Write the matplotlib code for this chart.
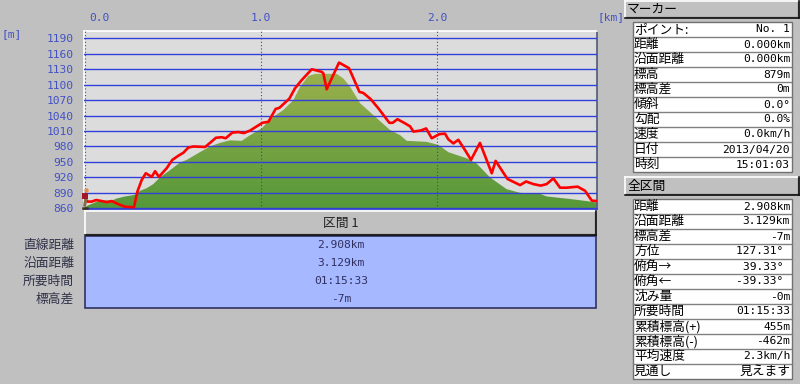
import numpy as np
import matplotlib
matplotlib.use("Agg")
import matplotlib.pyplot as plt
from matplotlib.patches import Rectangle
from matplotlib.transforms import ScaledTranslation

CJK = ['Noto Sans CJK JP', 'DejaVu Sans']
MONO = ['DejaVu Sans Mono', 'Noto Sans CJK JP']
plt.rcParams['font.family'] = CJK

# track (red line)
track_km = [0.0, 0.013, 0.038, 0.063, 0.095, 0.123, 0.152, 0.189, 0.227, 0.278, 0.297, 0.322, 0.345, 0.379, 0.398,
            0.420, 0.464, 0.496, 0.530, 0.559, 0.587, 0.616, 0.682, 0.710, 0.744, 0.777, 0.799, 0.837, 0.871, 0.903,
            0.938, 0.975, 1.008, 1.042, 1.083, 1.104, 1.161, 1.193, 1.231, 1.288, 1.345, 1.354, 1.373, 1.443, 1.500,
            1.559, 1.581, 1.623, 1.667, 1.729, 1.748, 1.775, 1.818, 1.847, 1.866, 1.907, 1.938, 1.970, 2.013, 2.045,
            2.064, 2.093, 2.121, 2.159, 2.193, 2.244, 2.311, 2.333, 2.400, 2.472, 2.506, 2.547, 2.589, 2.623, 2.661,
            2.699, 2.737, 2.799, 2.841, 2.879, 2.907]
track_m = [879, 873, 873, 876, 874, 872, 874, 868, 863, 862, 892, 915, 928, 921, 932,
           921, 938, 954, 962, 968, 978, 980, 979, 987, 997, 998, 996, 1007, 1008, 1006,
           1011, 1019, 1026, 1028, 1053, 1055, 1073, 1093, 1109, 1130, 1125, 1122, 1091, 1143, 1132,
           1086, 1084, 1072, 1054, 1026, 1026, 1033, 1025, 1019, 1009, 1011, 1015, 996, 1004, 1005,
           994, 986, 993, 973, 954, 987, 928, 952, 917, 905, 912, 907, 904, 907, 918,
           900, 900, 902, 894, 875, 874]

# terrain (green area)
ground_km = [0.0, 0.019, 0.085, 0.152, 0.180, 0.227, 0.284, 0.313, 0.350, 0.388, 0.426, 0.483, 0.540, 0.578, 0.653,
             0.710, 0.767, 0.824, 0.890, 0.938, 1.004, 1.051, 1.127, 1.184, 1.222, 1.269, 1.307, 1.430, 1.468, 1.506,
             1.563, 1.638, 1.733, 1.790, 1.828, 1.941, 2.008, 2.064, 2.169, 2.225, 2.301, 2.396, 2.472, 2.585, 2.623,
             2.756, 2.850, 2.907]
ground_m = [862, 866, 875, 875, 879, 883, 886, 894, 899, 907, 920, 934, 949, 954, 969,
            980, 987, 992, 991, 1002, 1015, 1033, 1051, 1070, 1096, 1117, 1121, 1121, 1112, 1096,
            1064, 1041, 1012, 1002, 991, 989, 983, 969, 957, 947, 920, 897, 890, 888, 883,
            878, 874, 871]

y_ticks = [860, 890, 920, 950, 980, 1010, 1040, 1070, 1100, 1130, 1160, 1190]
x_ticks = [0.0, 1.0, 2.0]
x_labels = ['0.0', '1.0', '2.0']

section_title = '区間 1'
section_names = ['直線距離', '沿面距離', '所要時間', '標高差']
section_values = ['2.908km', '3.129km', '01:15:33', '-7m']

marker_names = ['ポイント:', '距離', '沿面距離', '標高', '標高差', '傾斜', '勾配', '速度', '日付', '時刻']
marker_values = ['No. 1', '0.000km', '0.000km', '879m', '0m', '0.0°', '0.0%', '0.0km/h', '2013/04/20', '15:01:03']

total_names = ['距離', '沿面距離', '標高差', '方位', '俯角→', '俯角←', '沈み量', '所要時間',
               '累積標高(+)', '累積標高(-)', '平均速度', '見通し']
total_values = ['2.908km', '3.129km', '-7m', '127.31° ', '39.33° ', '-39.33° ', '-0m', '01:15:33',
                '455m', '-462m', '2.3km/h', '見えます']

BG = '#c0c0c0'
BLUE = '#3040d8'
TXT_BLUE = '#4252c4'
W, H = 800, 384
FS = 9.2
FS_NUM = 8.1

fig = plt.figure(figsize=(8, 3.84), dpi=100, facecolor=BG)

# overlay in pixel coords for the panels
pan = fig.add_axes([0, 0, 1, 1], zorder=1)
pan.set_xlim(0, W)
pan.set_ylim(H, 0)
pan.axis('off')


def button(x0, y0, x1, y1):
    pan.add_patch(Rectangle((x0, y0), x1 - x0, y1 - y0, fc=BG, ec='none'))
    pan.plot([x0, x1], [y0, y0], color='white', lw=1.2)
    pan.plot([x0, x0], [y0, y1], color='white', lw=1.2)
    pan.plot([x0 + 1, x1 - 1], [y1 - 1, y1 - 1], color='#808080', lw=1)
    pan.plot([x1 - 1, x1 - 1], [y0 + 1, y1 - 1], color='#808080', lw=1)
    pan.plot([x0, x1], [y1, y1], color='#101010', lw=1.2)
    pan.plot([x1, x1], [y0, y1], color='#101010', lw=1.2)


def value_text(x, y, s, color, ha):
    # japanese values stay in the big font
    if s.isascii() or '°' in s:
        pan.text(x, y, s, fontsize=FS_NUM, family=MONO, color=color, ha=ha, va='center')
    else:
        pan.text(x, y, s, fontsize=FS, color=color, ha=ha, va='center')


def info_table(x0, x1, top, names, values, row_h=15):
    bottom = top + row_h * len(names)
    pan.add_patch(Rectangle((x0, top), x1 - x0, bottom - top, fc='white', ec='#707070', lw=1))
    for i in range(len(names)):
        y = top + row_h * i
        if i > 0:
            pan.plot([x0, x1], [y, y], color='#808080', lw=1)
        pan.text(x0 + 1, y + row_h / 2, names[i], fontsize=FS, color='black', ha='left', va='center')
        value_text(x1 - 2, y + row_h / 2, values[i], 'black', 'right')


# right side
button(625, 1, 799, 18)
pan.text(627, 9.5, 'マーカー', fontsize=FS, color='black', va='center')
info_table(633, 792, 22, marker_names, marker_values)
button(625, 177, 799, 195)
pan.text(627, 186, '全区間', fontsize=FS, color='black', va='center')
info_table(633, 792, 199, total_names, total_values)

# section strip under the chart
button(85, 211, 596, 235)
pan.text(341, 223, section_title, fontsize=FS, color='#202020', ha='center', va='center')
pan.add_patch(Rectangle((85, 236), 511, 72, fc='#a6b8ff', ec='#303060', lw=1.2))
for i in range(len(section_names)):
    y = 245 + i * 18
    pan.text(74, y, section_names[i], fontsize=FS, color='#303048', ha='right', va='center')
    value_text(341, y, section_values[i], '#303060', 'center')

pan.text(2, 34, '[m]', fontsize=FS_NUM, family=MONO, color=TXT_BLUE, va='center')
pan.text(597, 17, '[km]', fontsize=FS_NUM, family=MONO, color=TXT_BLUE, va='center')

# profile
ax = fig.add_axes([84 / W, 1 - 209 / H, 513 / W, 178 / H], zorder=2, facecolor='#dcdcdc')
ax.set_xlim(-0.006, 2.909)
ax.set_ylim(858.6, 1204.3)

grad = np.linspace(0, 1, 256).reshape(-1, 1)
cmap = matplotlib.colors.LinearSegmentedColormap.from_list('g', ['#55983a', '#9ab04c'])
im = ax.imshow(grad, origin='lower', aspect='auto', cmap=cmap,
               extent=[-0.006, 2.909, 858.6, 1122], zorder=1)
poly = ax.fill_between(ground_km, ground_m, 858.6, color='none')
im.set_clip_path(poly.get_paths()[0], transform=ax.transData)

ax.set_yticks(y_ticks)
ax.set_xticks(x_ticks)
ax.set_xticklabels(x_labels)
ax.xaxis.tick_top()
ax.tick_params(axis='both', length=0, colors=TXT_BLUE, labelsize=FS_NUM)
ax.tick_params(axis='y', pad=7.5)
ax.tick_params(axis='x', pad=6)
for lab in ax.get_xticklabels() + ax.get_yticklabels():
    lab.set_family(MONO)
# first label sits a bit right of the axis start
first = ax.get_xticklabels()[0]
first.set_horizontalalignment('left')
first.set_transform(first.get_transform() + ScaledTranslation(4 / 100, 0, fig.dpi_scale_trans))
ax.grid(axis='y', color=BLUE, lw=1.0, zorder=2)
ax.grid(axis='x', color=BLUE, lw=0.8, ls=(0, (1, 2)), zorder=2)
ax.set_axisbelow(False)

ax.plot(track_km, track_m, color='#ff0000', lw=1.9, zorder=4)

# hiker at the marker point
ax.plot([-0.002, 0.004], [866, 878], color='#8a6a40', lw=2.2, zorder=5, clip_on=False)
ax.plot([-0.012, 0.012], [861, 861], color='#3a3020', lw=1.8, zorder=6, clip_on=False)
ax.plot([-0.002], [884], 's', color='#a01828', ms=4.5, mew=0, zorder=6, clip_on=False)
ax.plot([0.003], [895], 'o', color='#e09050', ms=3.2, mew=0, zorder=6, clip_on=False)

ax.spines['top'].set_color('white')
ax.spines['left'].set_color('white')
ax.spines['right'].set_color('#505878')
ax.spines['bottom'].set_color(BLUE)
for s in ax.spines.values():
    s.set_linewidth(1.2)

fig.savefig('out.png', dpi=100, facecolor=BG)
